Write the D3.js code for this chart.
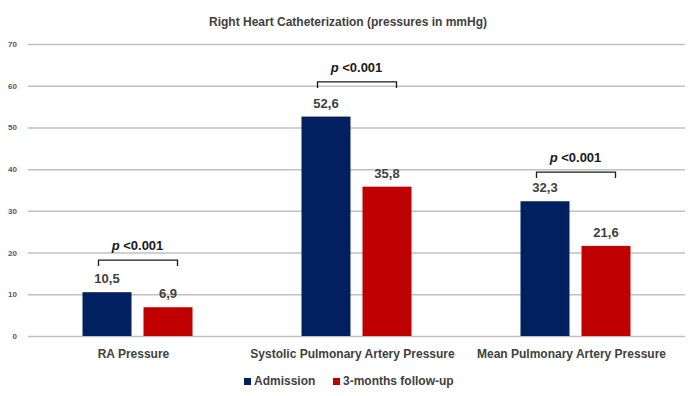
<!DOCTYPE html>
<html>
<head>
<meta charset="utf-8">
<script src="https://cdn.jsdelivr.net/npm/d3@7"></script>
<style>
  body { margin: 0; background: #fff; }
  text { font-family: "Liberation Sans Narrow", "Liberation Sans", Arial, sans-serif; fill: #404040; font-weight: bold; }
</style>
</head>
<body>
<div id="chart"></div>
<script>
// Data
var categories = ['RA Pressure', 'Systolic Pulmonary Artery Pressure', 'Mean Pulmonary Artery Pressure'];
var series     = ['Admission', '3-months follow-up'];
var admission  = [10.5, 52.6, 32.3];
var followUp   = [6.9, 35.8, 21.6];
var bracketAt  = [18.2, 60.9, 39.3];
var pLabels    = ['<0.001', '<0.001', '<0.001'];
var yTicks     = [0, 10, 20, 30, 40, 50, 60, 70];

var colors = ['#002060', '#C00000'];

var W = 688, H = 396;
var margin = {top: 44, right: 3, bottom: 60, left: 28};
var innerW = W - margin.left - margin.right;
var innerH = H - margin.top - margin.bottom;

var svg = d3.select('#chart').append('svg')
  .attr('width', W)
  .attr('height', H);

// Title
svg.append('text')
  .attr('x', W / 2 + 4)
  .attr('y', 26)
  .attr('text-anchor', 'middle')
  .style('font-size', '12px')
  .text('Right Heart Catheterization (pressures in mmHg)');

var g = svg.append('g')
  .attr('transform', `translate(${margin.left}, ${margin.top})`);

var x = d3.scaleBand()
  .domain(categories)
  .range([0, innerW]);

// two bars of ~49px with a ~12px gap, centred in each band
var x1 = d3.scaleBand()
  .domain(series)
  .range([(x.bandwidth() - 110) / 2, (x.bandwidth() + 110) / 2])
  .paddingInner(0.197);

var y = d3.scaleLinear()
  .domain([0, 70])
  .range([innerH, 0]);

// Gridlines + tick labels
var yAxis = d3.axisLeft(y)
  .tickValues(yTicks)
  .tickSize(-innerW)
  .tickPadding(10);

var ya = g.append('g').call(yAxis);
ya.select('.domain').remove();
ya.selectAll('.tick line').attr('stroke', '#c0c0c0').attr('stroke-width', 1.5);
ya.selectAll('.tick text')
  .attr('x', -11)
  .style('font-size', '8px')
  .style('fill', '#595959');

// Bars
var rows = categories.map((c, i) => ({cat: c, values: [admission[i], followUp[i]]}));

var groups = g.selectAll('.grp')
  .data(rows)
  .enter().append('g')
  .attr('class', 'grp')
  .attr('transform', (d) => `translate(${x(d.cat)}, 0)`);

groups.selectAll('rect')
  .data((d) => d.values.map((v, j) => ({s: series[j], v: v, j: j})))
  .enter().append('rect')
  .attr('x', (d) => x1(d.s))
  .attr('width', x1.bandwidth())
  .attr('y', (d) => y(d.v))
  .attr('height', (d) => innerH - y(d.v))
  .style('fill', (d) => colors[d.j]);

// Value labels
groups.selectAll('.val')
  .data((d) => d.values.map((v, j) => ({s: series[j], v: v})))
  .enter().append('text')
  .attr('class', 'val')
  .attr('x', (d) => x1(d.s) + x1.bandwidth() / 2)
  .attr('y', (d) => y(d.v) - 9)
  .attr('text-anchor', 'middle')
  .style('font-size', '13px')
  .text((d) => String(d.v).replace('.', ','));

// Category labels
g.selectAll('.cat')
  .data(categories)
  .enter().append('text')
  .attr('class', 'cat')
  .attr('x', (d) => x(d) + x.bandwidth() / 2 - 4)
  .attr('y', innerH + 22)
  .attr('text-anchor', 'middle')
  .style('font-size', '12px')
  .text((d) => d);

// Significance brackets
categories.forEach(function(c, i) {
  var cx = x(c) + x.bandwidth() / 2;
  var by = y(bracketAt[i]);
  g.append('path')
    .attr('d', `M${cx - 39},${by + 6}V${by}H${cx + 40}V${by + 6}`)
    .attr('fill', 'none')
    .attr('stroke', '#1a1a1a')
    .attr('stroke-width', 1.3);
  var t = g.append('text')
    .attr('x', cx)
    .attr('y', by - 10)
    .attr('text-anchor', 'middle')
    .style('font-size', '13px')
    .style('fill', '#1a1a1a');
  t.append('tspan').style('font-style', 'italic').text('p');
  t.append('tspan').text(' ' + pLabels[i]);
});

// Legend
var legend = svg.append('g')
  .attr('transform', 'translate(244, 385)');
var lx = [0, 89];
series.forEach(function(s, i) {
  var li = legend.append('g').attr('transform', `translate(${lx[i]}, 0)`);
  li.append('rect')
    .attr('x', 0).attr('y', -7)
    .attr('width', 7).attr('height', 7)
    .style('fill', colors[i]);
  li.append('text')
    .attr('x', 10).attr('y', 0)
    .style('font-size', '12px')
    .text(s);
});
</script>
</body>
</html>
